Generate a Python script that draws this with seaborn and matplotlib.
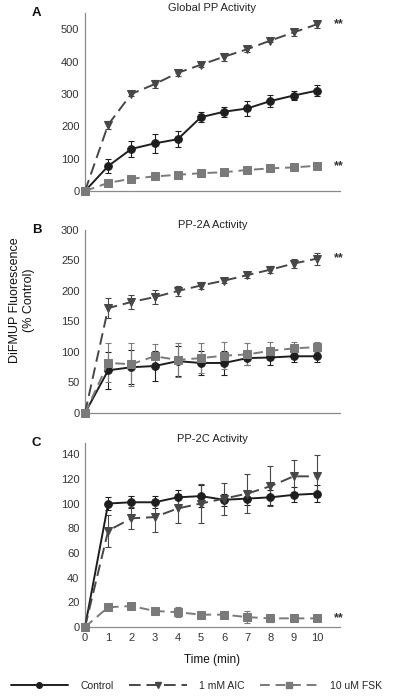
import numpy as np
import pandas as pd
import matplotlib
matplotlib.use("Agg")
import matplotlib.pyplot as plt
import seaborn as sns
from matplotlib.lines import Line2D

sns.set_style("white")
plt.rcParams['font.family'] = ['Liberation Sans', 'DejaVu Sans']

time = list(range(11))
series = ["Control", "1 mM AIC", "10 uM FSK"]

# Panel A: Global PP Activity
a_ctrl = [0, 77, 130, 147, 160, 228, 245, 255, 278, 295, 310]
a_ctrl_err = [0, 22, 25, 30, 25, 15, 15, 22, 18, 15, 18]
a_aic = [0, 205, 300, 330, 365, 390, 415, 438, 465, 490, 515]
a_aic_err = [0, 12, 8, 12, 10, 8, 12, 10, 6, 10, 10]
a_fsk = [0, 25, 38, 45, 50, 55, 58, 65, 70, 73, 78]
a_fsk_err = [0, 3, 3, 3, 3, 3, 3, 3, 3, 3, 3]

# Panel B: PP-2A Activity
b_ctrl = [0, 70, 75, 77, 85, 82, 82, 90, 91, 93, 93]
b_ctrl_err = [0, 30, 28, 25, 25, 20, 20, 12, 12, 10, 10]
b_aic = [0, 172, 182, 190, 200, 209, 217, 226, 235, 245, 253]
b_aic_err = [0, 16, 12, 11, 9, 6, 4, 4, 6, 8, 10]
b_fsk = [0, 82, 80, 93, 87, 90, 94, 96, 102, 106, 108]
b_fsk_err = [0, 32, 35, 20, 28, 25, 22, 18, 15, 10, 8]

# Panel C: PP-2C Activity
c_ctrl = [0, 100, 101, 101, 105, 106, 103, 104, 105, 107, 108]
c_ctrl_err = [0, 5, 5, 5, 6, 9, 5, 5, 6, 6, 7]
c_aic = [0, 78, 88, 89, 96, 100, 104, 108, 114, 122, 122]
c_aic_err = [0, 13, 9, 12, 12, 16, 13, 16, 16, 13, 17]
c_fsk = [0, 16, 17, 13, 12, 10, 10, 8, 7, 7, 7]
c_fsk_err = [0, 1, 1, 1, 4, 1, 2, 5, 3, 2, 2]

titles = ["Global PP Activity", "PP-2A Activity", "PP-2C Activity"]
letters = ["A", "B", "C"]
ylims = [(0, 550), (0, 300), (0, 149)]
yticks = [range(0, 501, 100), range(0, 301, 50), range(0, 141, 20)]
stars = [[(515, "**"), (78, "**")], [(253, "**")], [(7, "**")]]

panels = [
    [(a_ctrl, a_ctrl_err), (a_aic, a_aic_err), (a_fsk, a_fsk_err)],
    [(b_ctrl, b_ctrl_err), (b_aic, b_aic_err), (b_fsk, b_fsk_err)],
    [(c_ctrl, c_ctrl_err), (c_aic, c_aic_err), (c_fsk, c_fsk_err)],
]

colors = {"Control": "#1e1e1e", "1 mM AIC": "#474747", "10 uM FSK": "#7a7a7a"}
markers = {"Control": "o", "1 mM AIC": "v", "10 uM FSK": "s"}
dashes = {"Control": "", "1 mM AIC": (6, 3), "10 uM FSK": (5, 3)}

fig = plt.figure(figsize=(3.93, 6.96), dpi=100)
W, H = 393, 696
boxes = [(85, 340, 13, 191), (85, 340, 230, 413), (85, 340, 443, 627)]

for i, (l, r, t, b) in enumerate(boxes):
    ax = fig.add_axes([l / W, 1 - b / H, (r - l) / W, (b - t) / H])
    rows = []
    for name, (vals, errs) in zip(series, panels[i]):
        for x, v, e in zip(time, vals, errs):
            rows.append({"Time": x, "Value": v, "Err": e, "Series": name})
    df = pd.DataFrame(rows)
    sns.lineplot(data=df, x="Time", y="Value", hue="Series", style="Series",
                 palette=colors, markers=markers, dashes=dashes, ax=ax,
                 legend=False, linewidth=1.4, markersize=5.5,
                 clip_on=False, zorder=3)
    for line in list(ax.lines):
        line.set_markeredgecolor(line.get_color())
    for name in series:
        sub = df[df.Series == name]
        ax.errorbar(sub.Time, sub.Value, yerr=sub.Err, fmt="none",
                    ecolor=colors[name], elinewidth=0.8, capsize=2, capthick=0.8,
                    clip_on=False, zorder=2)
    ax.set_xlim(0, 11)
    ax.set_ylim(*ylims[i])
    ax.set_yticks(list(yticks[i]))
    ax.set_xticks(range(11))
    ax.set_xlabel("")
    ax.set_ylabel("")
    for s in ["top", "right"]:
        ax.spines[s].set_visible(False)
    for s in ["left", "bottom"]:
        ax.spines[s].set_color("#8a8a8a")
        ax.spines[s].set_linewidth(0.9)
    ax.tick_params(axis="both", direction="out", length=2.5, width=0.8,
                   color="#8a8a8a", labelsize=8, labelcolor="#333333", pad=2)
    ax.tick_params(axis="y", length=0, pad=4)
    if i < 2:
        ax.tick_params(axis="x", labelbottom=False)
    ax.set_title(titles[i], fontsize=8, color="#222222", pad=1)
    ax.text(-0.19, 1.0, letters[i], transform=ax.transAxes, fontsize=9.5,
            fontweight="bold", ha="center", va="center", color="#111111")
    for yv, s in stars[i]:
        ax.text(10.95, yv, s, fontsize=9, fontweight="bold", ha="center",
                va="center", color="#333333", clip_on=False)

ax.set_xlabel("Time (min)", fontsize=8.5, color="#111111", labelpad=8)
fig.text(22 / W, 1 - 300 / H, "DiFMUP Fluorescence\n(% Control)", rotation=90,
         ha="center", va="center", fontsize=9, color="#111111", linespacing=1.2)

handles = [Line2D([], [], color=colors[n], marker=markers[n], markersize=4,
                  linewidth=1.4,
                  linestyle="-" if n == "Control" else (0, dashes[n]))
           for n in series]
fig.legend(handles, series, loc="center", bbox_to_anchor=(0.5, 1 - 686 / H),
           ncol=3, frameon=False, fontsize=7.5, handlelength=5.5,
           columnspacing=1.5, handletextpad=1.2)

fig.savefig("out.png", dpi=100)
